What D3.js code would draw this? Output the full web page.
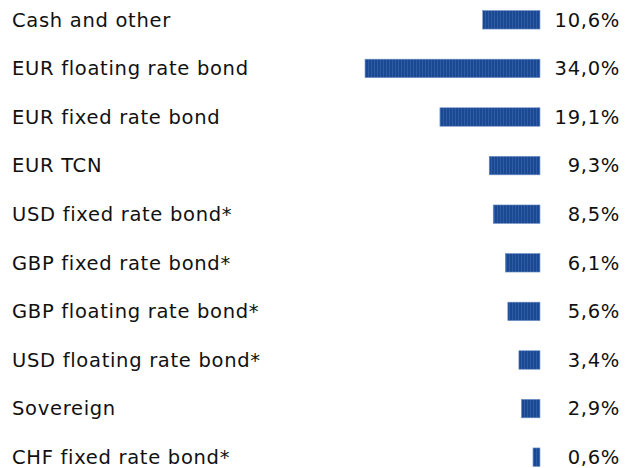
<!DOCTYPE html>
<html>
<head>
<meta charset="utf-8">
<script src="https://cdn.jsdelivr.net/npm/d3@7"></script>
<style>
  body { margin: 0; background: #fff; }
</style>
</head>
<body>
<svg id="chart" width="636" height="468"></svg>
<script>
var categories = ["Cash and other", "EUR floating rate bond", "EUR fixed rate bond", "EUR TCN",
    "USD fixed rate bond*", "GBP fixed rate bond*", "GBP floating rate bond*",
    "USD floating rate bond*", "Sovereign", "CHF fixed rate bond*"];
var values = [10.6, 34.0, 19.1, 9.3, 8.5, 6.1, 5.6, 3.4, 2.9, 0.6];
var valueLabels = ["10,6%", "34,0%", "19,1%", "9,3%", "8,5%", "6,1%", "5,6%", "3,4%", "2,9%", "0,6%"];

var svg = d3.select("#chart");
var barRight = 540;

var y = d3.scaleBand().domain(categories).range([-4, 481]).paddingInner(0.62).paddingOuter(0.3);
var w = d3.scaleLinear().domain([0, 34]).range([4, 175]);

// striped fill like the original
var pat = svg.append("defs").append("pattern")
    .attr("id", "stripes")
    .attr("patternUnits", "userSpaceOnUse")
    .attr("width", 3).attr("height", 10);
pat.append("rect").attr("width", 3).attr("height", 10).attr("fill", "#1b4891");
pat.append("rect").attr("x", 2).attr("width", 1).attr("height", 10).attr("fill", "#2c5ca6");

var rows = svg.selectAll(".row")
    .data(categories)
    .enter()
    .append("g")
    .attr("class", "row");

rows.append("text")
    .attr("x", 12)
    .attr("y", function (d) { return y(d) + y.bandwidth() / 2; })
    .attr("dy", "0.35em")
    .style("font-family", "DejaVu Sans")
    .style("font-size", "19.5px")
    .style("letter-spacing", "0.7px")
    .style("fill", "#111")
    .text(function (d) { return d; });

rows.append("rect")
    .attr("x", function (d, i) { return barRight - w(values[i]); })
    .attr("y", function (d) { return y(d); })
    .attr("width", function (d, i) { return w(values[i]); })
    .attr("height", y.bandwidth())
    .attr("fill", "url(#stripes)")
    .attr("stroke", "#6f8fc4")
    .attr("stroke-width", 0.6);

rows.append("text")
    .attr("x", 620)
    .attr("y", function (d) { return y(d) + y.bandwidth() / 2; })
    .attr("dy", "0.35em")
    .attr("text-anchor", "end")
    .style("font-family", "DejaVu Sans")
    .style("font-size", "19.5px")
    .style("letter-spacing", "0.7px")
    .style("fill", "#111")
    .text(function (d, i) { return valueLabels[i]; });
</script>
</body>
</html>
